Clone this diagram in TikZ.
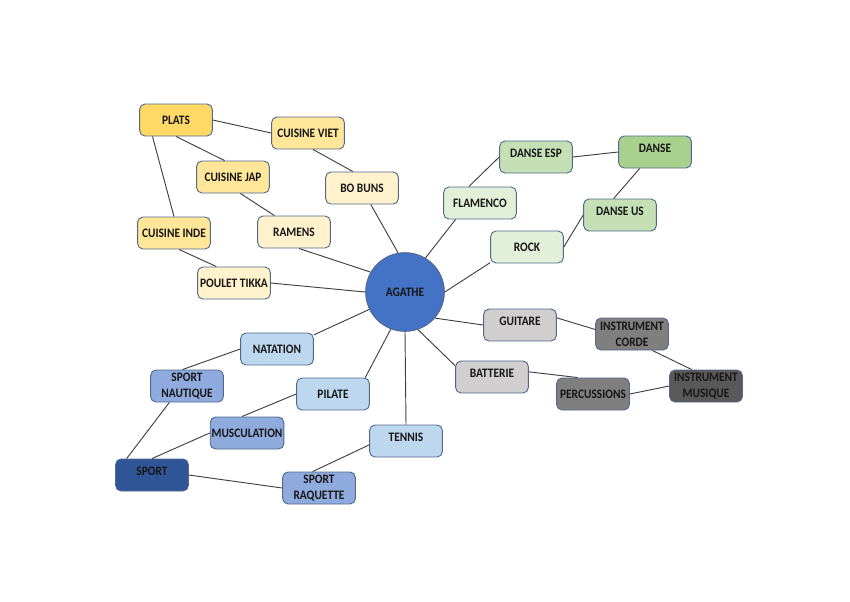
\documentclass[tikz,border=0pt]{standalone}
\usepackage{fontspec}
\setmainfont{Carlito}[FakeStretch=0.88]
\usepackage{tikz}

% Couleurs
\definecolor{bord}{HTML}{52698F}
\definecolor{trait}{HTML}{404040}
\definecolor{texte}{HTML}{161616}
\definecolor{jauneA}{HTML}{FFD966}
\definecolor{jauneB}{HTML}{FFE699}
\definecolor{jauneC}{HTML}{FFF2CC}
\definecolor{vertA}{HTML}{A9D18E}
\definecolor{vertB}{HTML}{C5E0B4}
\definecolor{vertC}{HTML}{E2F0D9}
\definecolor{grisA}{HTML}{595959}
\definecolor{grisB}{HTML}{7F7F7F}
\definecolor{grisC}{HTML}{D0CECE}
\definecolor{bleuA}{HTML}{2F5597}
\definecolor{bleuB}{HTML}{8FAADC}
\definecolor{bleuC}{HTML}{BDD7EE}
\definecolor{bleuCentre}{HTML}{4472C4}

\begin{document}
\begin{tikzpicture}[x=0.75pt, y=-0.75pt,
    bulle/.style={draw=bord, line width=0.7pt, rounded corners=4pt,
        minimum width=54.5pt, minimum height=24pt, inner sep=1pt,
        align=center, text=texte, font=\bfseries\fontsize{9.7}{12}\selectfont},
    haut/.style={text depth=6pt},
    lien/.style={draw=trait, line width=0.7pt}]
    \useasboundingbox (0,0) rectangle (850,601);

    % Noeud central
    \node[circle, draw=bord, line width=0.7pt, fill=bleuCentre, minimum size=59pt,
        inner sep=0pt, text=texte, font=\bfseries\fontsize{9.7}{12}\selectfont]
        (agathe) at (405,292) {AGATHE};

    % Cuisine
    \node[bulle, fill=jauneA] (plats) at (176,120) {PLATS};
    \node[bulle, fill=jauneB] (viet) at (308,133) {CUISINE VIET};
    \node[bulle, fill=jauneB] (jap) at (233,177) {CUISINE JAP};
    \node[bulle, fill=jauneB] (inde) at (174,233) {CUISINE INDE};
    \node[bulle, fill=jauneC] (bobuns) at (362,188) {BO BUNS};
    \node[bulle, fill=jauneC] (ramens) at (294,232) {RAMENS};
    \node[bulle, fill=jauneC] (tikka) at (234,283) {POULET TIKKA};

    % Danse
    \node[bulle, haut, fill=vertA] (danse) at (655,152) {DANSE};
    \node[bulle, haut, fill=vertB] (esp) at (536,157) {DANSE ESP};
    \node[bulle, haut, fill=vertB] (us) at (620,215) {DANSE US};
    \node[bulle, fill=vertC] (flamenco) at (480,203) {FLAMENCO};
    \node[bulle, fill=vertC] (rock) at (527,247) {ROCK};

    % Musique
    \node[bulle, fill=grisA] (musique) at (706,386) {INSTRUMENT\\MUSIQUE};
    \node[bulle, fill=grisB] (corde) at (632,334) {INSTRUMENT\\CORDE};
    \node[bulle, fill=grisB] (percu) at (593,394) {PERCUSSIONS};
    \node[bulle, haut, fill=grisC] (guitare) at (520,325) {GUITARE};
    \node[bulle, haut, fill=grisC] (batterie) at (492,377) {BATTERIE};

    % Sport
    \node[bulle, haut, fill=bleuA] (sport) at (152,475) {SPORT};
    \node[bulle, fill=bleuB] (nautique) at (187,386) {SPORT\\NAUTIQUE};
    \node[bulle, fill=bleuB] (musculation) at (247,433) {MUSCULATION};
    \node[bulle, fill=bleuB] (raquette) at (319,488) {SPORT\\RAQUETTE};
    \node[bulle, fill=bleuC] (natation) at (277,349) {NATATION};
    \node[bulle, fill=bleuC] (pilate) at (333,394) {PILATE};
    \node[bulle, haut, fill=bleuC] (tennis) at (406,441) {TENNIS};

    % Liens cuisine
    \draw[lien] (plats.east) -- (viet.west);
    \draw[lien] (plats.south) -- (jap.117);
    \draw[lien] (plats.-145) -- (inde.north);
    \draw[lien] (viet.-73) -- (bobuns.119);
    \draw[lien] (jap.-66) -- (ramens.140);
    \draw[lien] (inde.-73) -- (tikka.137);
    \draw[lien] (bobuns.-62) -- (agathe.100);
    \draw[lien] (ramens.-73) -- (agathe.150);
    \draw[lien] (tikka.east) -- (agathe.west);

    % Liens danse
    \draw[lien] (agathe.59) -- (flamenco.-146);
    \draw[lien] (flamenco.124) -- (esp.west);
    \draw[lien] (esp.east) -- (danse.west);
    \draw[lien] (danse.-133) -- (us.111);
    \draw[lien] (agathe.east) -- (rock.-157);
    \draw[lien] (rock.east) -- (us.west);

    % Liens musique
    \draw[lien] (agathe.-41) -- (guitare.west);
    \draw[lien] (guitare.11) -- (corde.173);
    \draw[lien] (corde.-39) -- (musique.131);
    \draw[lien] (agathe.-71) -- (batterie.163);
    \draw[lien] (batterie.8) -- (percu.133);
    \draw[lien] (percu.east) -- (musique.west);

    % Liens sport
    \draw[lien] (agathe.206) -- (natation.21);
    \draw[lien] (natation.west) -- (nautique.105);
    \draw[lien] (nautique.-137) -- (sport.147);
    \draw[lien] (agathe.-111) -- (pilate.27);
    \draw[lien] (pilate.west) -- (musculation.107);
    \draw[lien] (musculation.west) -- (sport.north);
    \draw[lien] (agathe.south) -- (tennis.north);
    \draw[lien] (tennis.186) -- (raquette.111);
    \draw[lien] (sport.east) -- (raquette.west);
\end{tikzpicture}
\end{document}
